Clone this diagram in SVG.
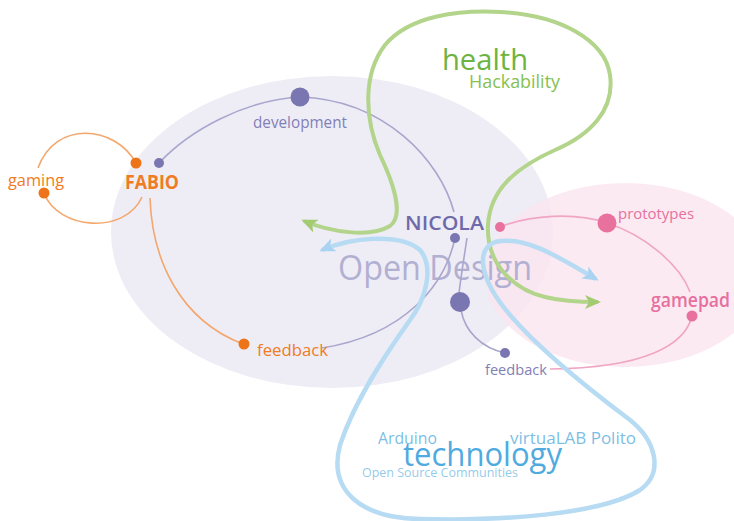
<svg xmlns="http://www.w3.org/2000/svg" width="734" height="521" viewBox="0 0 734 521">
<defs>
<style>
text{font-family:"Open Sans","Noto Sans","Liberation Sans",sans-serif}
.pl{fill:none;stroke:#a9a6cd;stroke-width:1.6}
.ol{fill:none;stroke:#f4a76c;stroke-width:1.6}
.kl{fill:none;stroke:#f0a6c3;stroke-width:1.6}
.gl{fill:none;stroke:#b3d48b;stroke-width:4}
.bl{fill:none;stroke:#b6dbf3;stroke-width:4.5}
.pd{fill:#7a76b1}
.od{fill:#ee7419}
.kd{fill:#e9719d}
.pt{fill:#827fb7}
.ot{fill:#ef7c22}
.kt{fill:#e6709f}
.bt{fill:#5fb2e1}
</style>
<marker id="ga" viewBox="0 0 16 14" refX="13" refY="7" markerWidth="16" markerHeight="14" markerUnits="userSpaceOnUse" orient="auto-start-reverse">
<path d="M0,0 L16,7 L0,14 L4,7 z" fill="#a3cb72"/>
</marker>
<marker id="ba" viewBox="0 0 16 14" refX="13" refY="7" markerWidth="16" markerHeight="14" markerUnits="userSpaceOnUse" orient="auto-start-reverse">
<path d="M0,0 L16,7 L0,14 L4,7 z" fill="#a9d3f0"/>
</marker>
</defs>
<rect width="734" height="521" fill="#ffffff"/>
<g id="areas">
<ellipse cx="332" cy="232" rx="221" ry="156" fill="#eeedf6"/>
<ellipse cx="625" cy="275" rx="140" ry="92" fill="#fbe3ee" opacity="0.75"/>
</g>
<g id="open-design">
<text x="338" y="280" font-size="35" fill="#b2b0d2" textLength="194" lengthAdjust="spacingAndGlyphs">Open Design</text>
</g>
<g id="connectors">
<path class="pl" d="M159,163 C190,130 245,100 300,97 C385,100 440,160 454,212"/>
<path class="pl" d="M455,238 C445,285 405,335 322,348"/>
<path class="pl" d="M467,238 C464,258 461,276 459,293"/>
<path class="pl" d="M461,310 C465,332 482,348 505,353"/>
<path class="ol" d="M136,163 C115,125 55,120 38,168"/>
<path class="ol" d="M44,193 C58,230 125,235 142,197"/>
<path class="ol" d="M150,198 C152,260 180,320 243,344"/>
<path class="kl" d="M500,227 C530,215 575,212 607,223"/>
<path class="kl" d="M607,223 C645,235 680,265 690,292"/>
<path class="kl" d="M692,316 C685,345 645,368 550,369"/>
<path class="gl" marker-start="url(#ga)" marker-end="url(#ga)" d="M304,221 C330,232 370,238 390,226 C405,215 392,180 380,155 C365,120 362,75 385,45 C410,15 460,10 500,12 C560,15 605,40 610,75 C615,110 590,135 555,150 C515,168 490,190 488,225 C486,265 515,290 545,297 C565,302 585,302 598,302"/>
<path class="bl" marker-start="url(#ba)" marker-end="url(#ba)" d="M322,250 C350,238 400,232 420,250 C435,268 425,300 410,320 C385,355 355,400 340,445 C328,490 360,518 420,519 C500,521 600,515 640,490 C665,472 655,440 630,420 C590,390 540,350 510,315 C480,280 475,250 495,242 C525,235 560,258 596,279"/>
</g>
<g id="fabio">
<circle class="od" cx="136" cy="163" r="5.5"/>
<circle class="pd" cx="159" cy="163" r="5"/>
<text class="ot" x="125" y="189" font-size="20" font-weight="700" textLength="54" lengthAdjust="spacingAndGlyphs">FABIO</text>
</g>
<g id="gaming">
<circle class="od" cx="44" cy="193" r="5.5"/>
<text class="ot" x="8" y="186" font-size="16" textLength="56" lengthAdjust="spacingAndGlyphs">gaming</text>
</g>
<g id="development">
<circle class="pd" cx="300" cy="97" r="9.5"/>
<text class="pt" x="253" y="128" font-size="16" textLength="94" lengthAdjust="spacingAndGlyphs">development</text>
</g>
<g id="feedback-fabio">
<circle class="od" cx="244" cy="344" r="5.5"/>
<text class="ot" x="257" y="356" font-size="17" textLength="71" lengthAdjust="spacingAndGlyphs">feedback</text>
</g>
<g id="nicola">
<circle class="pd" cx="455" cy="238" r="5"/>
<circle class="pd" cx="460" cy="302" r="10"/>
<text x="405" y="230" font-size="20" font-weight="600" fill="#6e6aa9" textLength="79" lengthAdjust="spacingAndGlyphs">NICOLA</text>
</g>
<g id="feedback-nicola">
<circle class="pd" cx="505" cy="353" r="5"/>
<text class="pt" x="485" y="375" font-size="15" textLength="62" lengthAdjust="spacingAndGlyphs">feedback</text>
</g>
<g id="prototypes">
<circle class="kd" cx="500" cy="227" r="5"/>
<circle class="kd" cx="607" cy="223" r="9.5"/>
<text class="kt" x="618" y="219" font-size="15" textLength="76" lengthAdjust="spacingAndGlyphs">prototypes</text>
</g>
<g id="gamepad">
<circle class="kd" cx="692" cy="316" r="5.5"/>
<text class="kt" x="651" y="307" font-size="19" font-weight="600" textLength="79" lengthAdjust="spacingAndGlyphs">gamepad</text>
</g>
<g id="health">
<text x="442" y="70" font-size="30" fill="#6db33f" textLength="86" lengthAdjust="spacingAndGlyphs">health</text>
<text x="469" y="88" font-size="18" fill="#86c150" textLength="91" lengthAdjust="spacingAndGlyphs">Hackability</text>
</g>
<g id="technology">
<text class="bt" x="378" y="444" font-size="16" fill-opacity="0.85" textLength="59" lengthAdjust="spacingAndGlyphs">Arduino</text>
<text x="403" y="466" font-size="32" fill="#4fabdf" textLength="159" lengthAdjust="spacingAndGlyphs">technology</text>
<text class="bt" x="510" y="444" font-size="16.5" fill-opacity="0.85" textLength="126" lengthAdjust="spacingAndGlyphs">virtuaLAB Polito</text>
<text class="bt" x="362" y="477" font-size="13" fill-opacity="0.7" textLength="156" lengthAdjust="spacingAndGlyphs">Open Source Communities</text>
</g>
</svg>
